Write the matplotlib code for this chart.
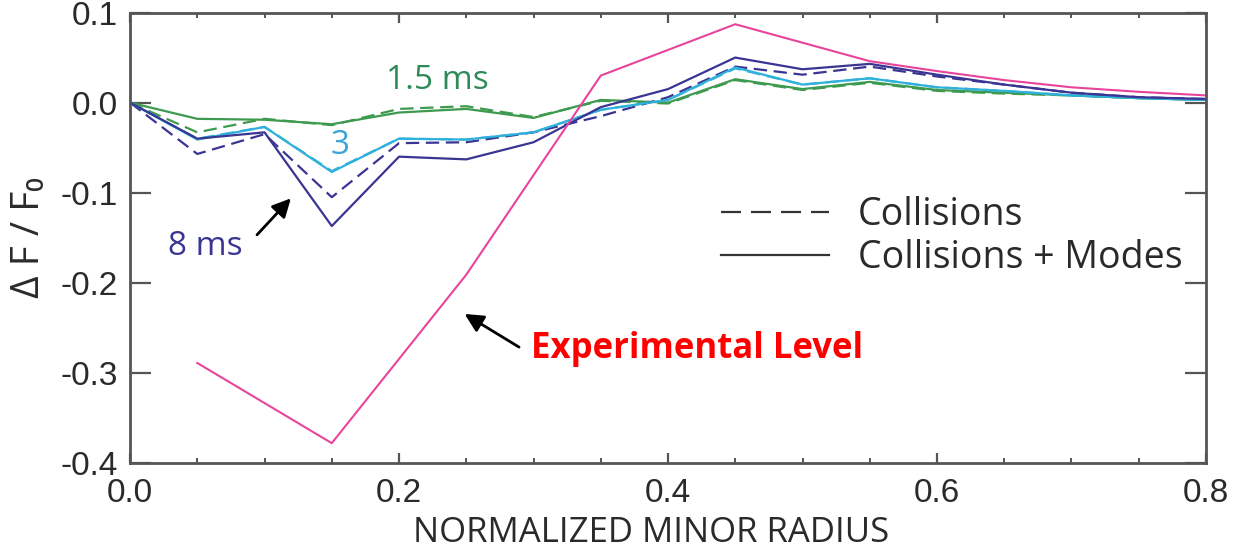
import matplotlib
matplotlib.use("Agg")
import matplotlib.pyplot as plt
from matplotlib.lines import Line2D

# ---- data ----
radius = [0.0, 0.05, 0.10, 0.15, 0.20, 0.25, 0.30, 0.35, 0.40, 0.45,
          0.50, 0.55, 0.60, 0.65, 0.70, 0.75, 0.80]

ms8_modes = [0.0, -0.040, -0.033, -0.137, -0.060, -0.063, -0.044, -0.005, 0.015,
             0.050, 0.037, 0.043, 0.031, 0.020, 0.011, 0.006, 0.004]
ms8_coll = [0.0, -0.057, -0.035, -0.105, -0.045, -0.044, -0.033, -0.015, 0.006,
            0.040, 0.031, 0.040, 0.029, 0.020, 0.011, 0.006, 0.004]
ms3_modes = [0.0, -0.041, -0.027, -0.077, -0.040, -0.041, -0.033, -0.008, 0.003,
             0.039, 0.020, 0.027, 0.017, 0.013, 0.008, 0.005, 0.003]
ms3_coll = [0.0, -0.040, -0.027, -0.076, -0.040, -0.041, -0.033, -0.008, 0.003,
            0.038, 0.020, 0.027, 0.017, 0.013, 0.008, 0.005, 0.003]
ms15_modes = [0.0, -0.018, -0.019, -0.024, -0.011, -0.007, -0.017, 0.003, 0.000,
              0.026, 0.015, 0.023, 0.014, 0.011, 0.008, 0.005, 0.003]
ms15_coll = [0.0, -0.033, -0.018, -0.025, -0.007, -0.004, -0.016, 0.002, -0.001,
             0.025, 0.014, 0.022, 0.013, 0.010, 0.008, 0.005, 0.003]

exp_radius = [0.05, 0.15, 0.25, 0.35, 0.45, 0.55, 0.60, 0.65, 0.70, 0.75, 0.80]
exp_level = [-0.289, -0.378, -0.191, 0.030, 0.087, 0.046, 0.035, 0.025, 0.017, 0.012, 0.008]

x_ticks = [0.0, 0.2, 0.4, 0.6, 0.8]
x_ticklabels = ["0.0", "0.2", "0.4", "0.6", "0.8"]
y_ticks = [-0.4, -0.3, -0.2, -0.1, 0.0, 0.1]
y_ticklabels = ["-0.4", "-0.3", "-0.2", "-0.1", "0.0", "0.1"]

# ---- style ----
GREEN = "#3d9a4e"
CYAN = "#2fb1dc"
NAVY = "#3a3592"
PINK = "#e8449c"
AXC = "#555555"
TXT = "#2a2a2a"
dash = (6, 3)

fig = plt.figure(figsize=(12.35, 5.54), dpi=100)
ax = fig.add_axes([0.1053, 0.1643, 0.8712, 0.8131])

lw = 1.6
ax.plot(radius, ms15_coll, color=GREEN, lw=lw, dashes=dash)
ax.plot(radius, ms15_modes, color=GREEN, lw=lw)
ax.plot(radius, ms3_coll, color=CYAN, lw=lw, dashes=dash)
ax.plot(radius, ms8_coll, color=NAVY, lw=lw, dashes=dash)
ax.plot(radius, ms3_modes, color=CYAN, lw=lw)
ax.plot(radius, ms8_modes, color=NAVY, lw=lw)
ax.plot(exp_radius, exp_level, color=PINK, lw=1.5)

ax.set_xlim(0.0, 0.8)
ax.set_ylim(-0.4, 0.1)
ax.set_xticks(x_ticks)
ax.set_xticklabels(x_ticklabels)
ax.set_xticks([0.05 * i for i in range(17)], minor=True)
ax.set_yticks(y_ticks)
ax.set_yticklabels(y_ticklabels)

for s in ax.spines.values():
    s.set_color(AXC)
    s.set_linewidth(2.0)

ax.tick_params(axis="x", which="major", direction="in", length=7, width=1.6,
               color=AXC, top=True, bottom=True, pad=11)
ax.tick_params(axis="x", which="minor", direction="in", length=3.5, width=1.4,
               color=AXC, top=True, bottom=True)
ax.tick_params(axis="y", which="major", direction="in", length=15, width=1.6,
               color=AXC, left=True, right=True, pad=9)
for lab in ax.get_xticklabels() + ax.get_yticklabels():
    lab.set_fontfamily("Liberation Sans")
    lab.set_fontsize(24)
    lab.set_color(TXT)

ax.set_xlabel("NORMALIZED MINOR RADIUS", fontfamily="Open Sans", fontsize=25, color=TXT)
ax.xaxis.set_label_coords(0.484, -0.118)
ax.set_ylabel("\u0394 F / F\u2080", fontfamily=["Open Sans", "DejaVu Sans"], fontsize=28,
              color=TXT)
ax.yaxis.set_label_coords(-0.076, 0.5)

# annotations
ax.text(0.19, 0.025, "1.5 ms", color="#2e8b57", fontsize=24, fontfamily="Open Sans",
        ha="left", va="center")
ax.text(0.156, -0.048, "3", color="#3aa6d6", fontsize=24, fontfamily="Open Sans",
        ha="center", va="center")
ax.text(0.056, -0.160, "8 ms", color=NAVY, fontsize=24, fontfamily="Open Sans",
        ha="center", va="center")
ax.annotate("", xy=(0.121, -0.104), xytext=(0.093, -0.149),
            arrowprops=dict(arrowstyle="-|>", color="black", lw=2, mutation_scale=28))
ax.text(0.298, -0.274, "Experimental Level", color="#ff0000", fontsize=25,
        fontfamily="Open Sans", fontweight="bold", ha="left", va="center")
ax.annotate("", xy=(0.247, -0.233), xytext=(0.291, -0.273),
            arrowprops=dict(arrowstyle="-|>", color="black", lw=2, mutation_scale=28))

handles = [Line2D([], [], color="#333333", lw=1.6, dashes=(9, 4.5)),
           Line2D([], [], color="#333333", lw=1.6)]
leg = ax.legend(handles, ["Collisions", "Collisions + Modes"], loc="upper left",
                bbox_to_anchor=(0.549, 0.593), frameon=False,
                prop={"family": "Open Sans", "size": 27}, handlelength=2.9,
                handletextpad=0.75, labelspacing=0.15, borderaxespad=0, borderpad=0)
for t in leg.get_texts():
    t.set_color(TXT)

fig.savefig("out.png", dpi=100, facecolor="white")
